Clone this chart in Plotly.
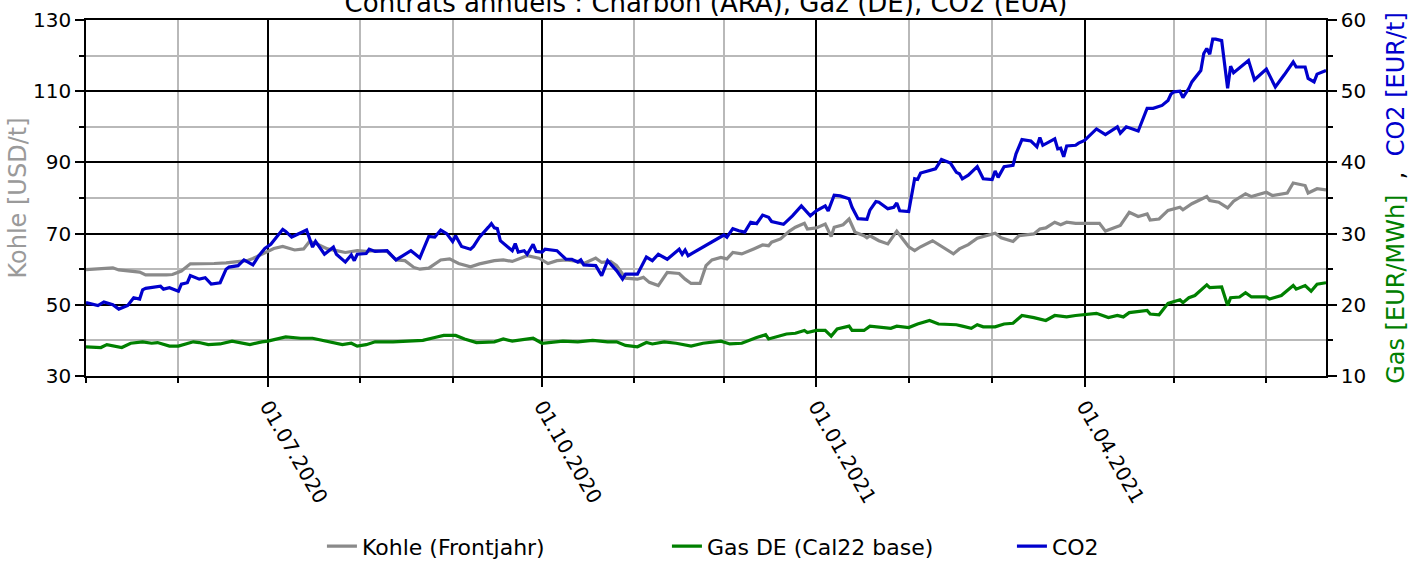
import plotly.graph_objects as go

# ---------------- data ----------------
kohle_dates = [
    "2020-05-01", "2020-05-05", "2020-05-10", "2020-05-12", "2020-05-16", "2020-05-19", "2020-05-21", "2020-05-25",
    "2020-05-28", "2020-05-30", "2020-06-02", "2020-06-05", "2020-06-08", "2020-06-13", "2020-06-17", "2020-06-21",
    "2020-06-24", "2020-06-26", "2020-06-29", "2020-07-01", "2020-07-03", "2020-07-06", "2020-07-10", "2020-07-13",
    "2020-07-15", "2020-07-17", "2020-07-21", "2020-07-24", "2020-07-27", "2020-07-31", "2020-08-03", "2020-08-06",
    "2020-08-10", "2020-08-13", "2020-08-16", "2020-08-19", "2020-08-21", "2020-08-24", "2020-08-28", "2020-08-31",
    "2020-09-03", "2020-09-07", "2020-09-10", "2020-09-15", "2020-09-18", "2020-09-21", "2020-09-24", "2020-09-26",
    "2020-09-30", "2020-10-03", "2020-10-06", "2020-10-09", "2020-10-13", "2020-10-15", "2020-10-19", "2020-10-21",
    "2020-10-24", "2020-10-26", "2020-10-29", "2020-11-02", "2020-11-04", "2020-11-06", "2020-11-09", "2020-11-12",
    "2020-11-16", "2020-11-18", "2020-11-20", "2020-11-23", "2020-11-25", "2020-11-27", "2020-11-30", "2020-12-02",
    "2020-12-04", "2020-12-07", "2020-12-11", "2020-12-14", "2020-12-16", "2020-12-17", "2020-12-20", "2020-12-23",
    "2020-12-25", "2020-12-28", "2020-12-29", "2021-01-01", "2021-01-04", "2021-01-06", "2021-01-07", "2021-01-10",
    "2021-01-12", "2021-01-14", "2021-01-17", "2021-01-18", "2021-01-19", "2021-01-22", "2021-01-25", "2021-01-28",
    "2021-01-30", "2021-02-01", "2021-02-03", "2021-02-05", "2021-02-09", "2021-02-11", "2021-02-14", "2021-02-16",
    "2021-02-18", "2021-02-21", "2021-02-24", "2021-02-27", "2021-03-02", "2021-03-04", "2021-03-08", "2021-03-10",
    "2021-03-15", "2021-03-17", "2021-03-19", "2021-03-22", "2021-03-24", "2021-03-26", "2021-03-29", "2021-04-04",
    "2021-04-06", "2021-04-08", "2021-04-13", "2021-04-16", "2021-04-19", "2021-04-22", "2021-04-23", "2021-04-26",
    "2021-04-29", "2021-05-03", "2021-05-04", "2021-05-07", "2021-05-12", "2021-05-13", "2021-05-16", "2021-05-19",
    "2021-05-21", "2021-05-25", "2021-05-27", "2021-06-01", "2021-06-03", "2021-06-08", "2021-06-10", "2021-06-14",
    "2021-06-15", "2021-06-18", "2021-06-21",
]
kohle_values = [
    59.9, 60.2, 60.4, 59.8, 59.4, 59.2, 58.4, 58.3,
    58.4, 58.5, 59.5, 61.5, 61.5, 61.6, 61.8, 62.2,
    62.4, 63.0, 64.2, 65.2, 65.8, 66.4, 65.4, 65.7,
    67.8, 67.3, 65.7, 65.2, 64.7, 65.2, 65.0, 65.2,
    65.0, 62.6, 62.4, 60.5, 60.0, 60.3, 62.6, 62.9,
    61.6, 60.7, 61.5, 62.4, 62.6, 62.2, 63.1, 63.8,
    63.1, 61.6, 62.4, 62.6, 62.2, 61.6, 63.1, 61.9,
    62.2, 61.0, 57.5, 57.2, 57.7, 56.3, 55.4, 59.1,
    58.8, 57.2, 56.0, 56.0, 61.0, 62.6, 63.3, 62.9,
    64.7, 64.3, 65.7, 66.8, 66.6, 67.6, 68.5, 70.7,
    71.8, 72.9, 71.3, 71.6, 72.7, 69.2, 71.8, 72.5,
    74.1, 70.4, 69.4, 68.8, 69.4, 68.0, 67.1, 70.7,
    68.5, 66.3, 65.2, 66.3, 68.0, 66.9, 65.2, 64.3,
    65.7, 66.9, 68.7, 69.4, 70.1, 68.8, 67.8, 69.4,
    69.9, 71.3, 71.6, 73.2, 72.5, 73.2, 72.9, 72.9,
    72.9, 70.7, 72.3, 76.0, 74.8, 75.5, 73.8, 74.1,
    76.5, 77.4, 76.7, 78.4, 80.4, 79.3, 78.8, 77.2,
    79.1, 81.2, 80.4, 81.6, 80.7, 81.4, 84.2, 83.5,
    81.4, 82.6, 82.3,
]

gas_dates = [
    "2020-05-01", "2020-05-06", "2020-05-08", "2020-05-11", "2020-05-13", "2020-05-16", "2020-05-20", "2020-05-23",
    "2020-05-25", "2020-05-29", "2020-06-01", "2020-06-06", "2020-06-08", "2020-06-11", "2020-06-15", "2020-06-19",
    "2020-06-22", "2020-06-25", "2020-06-29", "2020-07-01", "2020-07-07", "2020-07-12", "2020-07-16", "2020-07-21",
    "2020-07-26", "2020-07-29", "2020-07-31", "2020-08-03", "2020-08-06", "2020-08-12", "2020-08-19", "2020-08-22",
    "2020-08-26", "2020-08-29", "2020-09-02", "2020-09-05", "2020-09-09", "2020-09-15", "2020-09-18", "2020-09-21",
    "2020-09-28", "2020-10-01", "2020-10-08", "2020-10-13", "2020-10-18", "2020-10-23", "2020-10-26", "2020-10-29",
    "2020-11-02", "2020-11-05", "2020-11-07", "2020-11-11", "2020-11-15", "2020-11-20", "2020-11-24", "2020-11-30",
    "2020-12-03", "2020-12-07", "2020-12-12", "2020-12-15", "2020-12-16", "2020-12-22", "2020-12-25", "2020-12-28",
    "2020-12-29", "2021-01-01", "2021-01-04", "2021-01-06", "2021-01-08", "2021-01-12", "2021-01-13", "2021-01-17",
    "2021-01-19", "2021-01-22", "2021-01-26", "2021-01-28", "2021-02-01", "2021-02-04", "2021-02-08", "2021-02-11",
    "2021-02-17", "2021-02-19", "2021-02-22", "2021-02-24", "2021-02-26", "2021-03-02", "2021-03-05", "2021-03-08",
    "2021-03-11", "2021-03-15", "2021-03-17", "2021-03-19", "2021-03-22", "2021-03-26", "2021-03-29", "2021-04-05",
    "2021-04-09", "2021-04-12", "2021-04-14", "2021-04-16", "2021-04-22", "2021-04-23", "2021-04-26", "2021-04-29",
    "2021-05-03", "2021-05-04", "2021-05-06", "2021-05-08", "2021-05-12", "2021-05-13", "2021-05-17", "2021-05-18",
    "2021-05-19", "2021-05-20", "2021-05-23", "2021-05-25", "2021-05-27", "2021-06-01", "2021-06-02", "2021-06-06",
    "2021-06-10", "2021-06-11", "2021-06-14", "2021-06-16", "2021-06-18", "2021-06-21",
]
gas_values = [
    14.1, 14.0, 14.4, 14.2, 14.0, 14.6, 14.8, 14.6,
    14.7, 14.2, 14.2, 14.8, 14.7, 14.4, 14.5, 14.9,
    14.7, 14.4, 14.8, 14.9, 15.5, 15.3, 15.3, 14.8,
    14.4, 14.6, 14.2, 14.4, 14.8, 14.8, 14.9, 15.0,
    15.4, 15.7, 15.7, 15.2, 14.7, 14.8, 15.2, 14.9,
    15.3, 14.6, 14.9, 14.8, 15.0, 14.8, 14.8, 14.3,
    14.1, 14.7, 14.5, 14.8, 14.6, 14.2, 14.6, 14.9,
    14.5, 14.6, 15.4, 15.8, 15.2, 15.9, 16.0, 16.4,
    16.1, 16.4, 16.4, 15.6, 16.6, 17.0, 16.4, 16.4,
    17.0, 16.9, 16.7, 17.0, 16.8, 17.3, 17.8, 17.3,
    17.2, 17.0, 16.7, 17.2, 16.9, 16.9, 17.3, 17.4,
    18.5, 18.2, 18.0, 17.8, 18.5, 18.3, 18.5, 18.8,
    18.2, 18.5, 18.3, 18.9, 19.2, 18.7, 18.6, 20.2,
    20.7, 20.3, 21.0, 21.3, 22.8, 22.4, 22.5, 21.0,
    19.9, 21.0, 21.1, 21.7, 21.1, 21.1, 20.8, 21.3,
    22.7, 22.2, 22.7, 21.9, 22.9, 23.1,
]

co2_dates = [
    "2020-05-01", "2020-05-05", "2020-05-07", "2020-05-10", "2020-05-12", "2020-05-15", "2020-05-17", "2020-05-19",
    "2020-05-20", "2020-05-21", "2020-05-26", "2020-05-27", "2020-05-29", "2020-06-01", "2020-06-02", "2020-06-04",
    "2020-06-05", "2020-06-08", "2020-06-10", "2020-06-12", "2020-06-15", "2020-06-17", "2020-06-18", "2020-06-21",
    "2020-06-23", "2020-06-24", "2020-06-26", "2020-06-28", "2020-06-30", "2020-07-02", "2020-07-04", "2020-07-06",
    "2020-07-07", "2020-07-09", "2020-07-11", "2020-07-14", "2020-07-16", "2020-07-17", "2020-07-20", "2020-07-23",
    "2020-07-24", "2020-07-27", "2020-07-29", "2020-07-30", "2020-07-31", "2020-08-03", "2020-08-04", "2020-08-06",
    "2020-08-10", "2020-08-13", "2020-08-18", "2020-08-21", "2020-08-24", "2020-08-26", "2020-08-28", "2020-08-30",
    "2020-09-01", "2020-09-02", "2020-09-04", "2020-09-07", "2020-09-08", "2020-09-10", "2020-09-13", "2020-09-14",
    "2020-09-15", "2020-09-16", "2020-09-17", "2020-09-21", "2020-09-22", "2020-09-23", "2020-09-25", "2020-09-26",
    "2020-09-28", "2020-09-29", "2020-10-01", "2020-10-02", "2020-10-06", "2020-10-09", "2020-10-11", "2020-10-13",
    "2020-10-14", "2020-10-15", "2020-10-19", "2020-10-21", "2020-10-23", "2020-10-25", "2020-10-26", "2020-10-28",
    "2020-10-29", "2020-11-02", "2020-11-05", "2020-11-07", "2020-11-09", "2020-11-12", "2020-11-16", "2020-11-17",
    "2020-11-18", "2020-11-19", "2020-11-24", "2020-11-25", "2020-11-27", "2020-11-30", "2020-12-01", "2020-12-02",
    "2020-12-04", "2020-12-06", "2020-12-08", "2020-12-10", "2020-12-12", "2020-12-14", "2020-12-16", "2020-12-17",
    "2020-12-21", "2020-12-24", "2020-12-27", "2020-12-30", "2021-01-01", "2021-01-04", "2021-01-05", "2021-01-07",
    "2021-01-09", "2021-01-12", "2021-01-13", "2021-01-15", "2021-01-18", "2021-01-19", "2021-01-21", "2021-01-22",
    "2021-01-25", "2021-01-27", "2021-01-28", "2021-01-29", "2021-02-01", "2021-02-03", "2021-02-04", "2021-02-05",
    "2021-02-09", "2021-02-10", "2021-02-12", "2021-02-15", "2021-02-17", "2021-02-18", "2021-02-19", "2021-02-21",
    "2021-02-24", "2021-02-26", "2021-03-01", "2021-03-02", "2021-03-03", "2021-03-05", "2021-03-08", "2021-03-09",
    "2021-03-11", "2021-03-14", "2021-03-15", "2021-03-16", "2021-03-17", "2021-03-18", "2021-03-22", "2021-03-23",
    "2021-03-24", "2021-03-25", "2021-03-26", "2021-03-29", "2021-03-30", "2021-04-01", "2021-04-05", "2021-04-08",
    "2021-04-12", "2021-04-13", "2021-04-15", "2021-04-19", "2021-04-22", "2021-04-24", "2021-04-27", "2021-04-29",
    "2021-04-30", "2021-05-01", "2021-05-03", "2021-05-04", "2021-05-06", "2021-05-07", "2021-05-10", "2021-05-11",
    "2021-05-12", "2021-05-13", "2021-05-14", "2021-05-15", "2021-05-17", "2021-05-19", "2021-05-20", "2021-05-21",
    "2021-05-26", "2021-05-28", "2021-06-01", "2021-06-04", "2021-06-07", "2021-06-10", "2021-06-11", "2021-06-14",
    "2021-06-15", "2021-06-17", "2021-06-18", "2021-06-21",
]
co2_values = [
    20.3, 19.9, 20.4, 20.0, 19.4, 19.9, 21.0, 20.8,
    22.1, 22.3, 22.6, 22.2, 22.4, 21.9, 22.9, 23.1,
    24.1, 23.6, 23.8, 22.9, 23.1, 25.0, 25.3, 25.5,
    26.3, 26.1, 25.6, 26.9, 27.9, 28.5, 29.5, 30.6,
    30.3, 29.5, 29.9, 30.5, 28.1, 28.9, 27.1, 28.1,
    27.1, 26.0, 27.0, 26.2, 27.1, 27.2, 27.8, 27.5,
    27.6, 26.3, 27.6, 26.6, 29.6, 29.5, 30.5, 30.0,
    28.9, 29.7, 28.2, 27.8, 28.2, 29.5, 30.9, 31.4,
    30.8, 30.7, 29.0, 27.6, 28.6, 27.4, 27.6, 27.1,
    28.5, 27.5, 27.4, 27.8, 27.6, 26.4, 26.4, 26.0,
    26.3, 25.6, 25.5, 24.1, 26.2, 25.3, 24.8, 23.6,
    24.3, 24.3, 26.7, 26.2, 27.1, 26.4, 27.8, 27.1,
    27.7, 26.9, 28.1, 28.3, 28.9, 29.5, 29.8, 29.5,
    30.7, 30.4, 30.2, 31.6, 31.4, 32.6, 32.3, 31.7,
    31.3, 32.5, 33.9, 32.5, 33.2, 33.9, 33.2, 35.4,
    35.3, 34.9, 33.7, 32.1, 32.0, 33.3, 34.5, 34.4,
    33.5, 33.7, 34.3, 33.2, 33.1, 37.7, 37.6, 38.5,
    38.9, 39.1, 40.4, 39.9, 38.6, 38.4, 37.7, 38.2,
    39.4, 37.7, 37.6, 38.8, 37.9, 39.4, 39.6, 41.2,
    43.2, 43.0, 42.6, 42.2, 43.5, 42.4, 43.3, 41.9,
    42.0, 40.8, 42.3, 42.4, 42.7, 43.1, 44.7, 43.9,
    45.0, 44.1, 45.0, 44.4, 47.6, 47.6, 48.0, 48.7,
    49.6, 49.9, 50.0, 49.1, 50.4, 51.3, 52.9, 55.3,
    56.0, 55.2, 57.3, 57.3, 57.1, 50.4, 53.5, 52.6,
    54.3, 51.6, 53.1, 50.6, 52.3, 54.1, 53.4, 53.4,
    51.8, 51.3, 52.4, 52.9,
]

series_names = ["Kohle (Frontjahr)", "Gas DE (Cal22 base)", "CO2"]
x_range = ["2020-05-01", "2021-06-21"]
title_text = "Contrats annuels : Charbon (ARA), Gaz (DE), CO2 (EUA)"

# ---------------- styling ----------------
FONT = "DejaVu Sans"
C_KOHLE = "#8a8a8a"
C_GAS = "#008000"
C_CO2 = "#0000cd"
MINOR_GRID = "#b9b9b9"

fig = go.Figure()
fig.add_trace(go.Scatter(x=kohle_dates, y=kohle_values, name=series_names[0], mode="lines",
                         line=dict(color=C_KOHLE, width=3.2), yaxis="y"))
fig.add_trace(go.Scatter(x=gas_dates, y=gas_values, name=series_names[1], mode="lines",
                         line=dict(color=C_GAS, width=3.2), yaxis="y2"))
fig.add_trace(go.Scatter(x=co2_dates, y=co2_values, name=series_names[2], mode="lines",
                         line=dict(color=C_CO2, width=3.2), yaxis="y2"))

right_title = ("<span style='color:" + C_GAS + "'>Gas [EUR/MWh]</span>"
               "\u00a0\u00a0,\u00a0\u00a0"
               "<span style='color:" + C_CO2 + "'>CO2 [EUR/t]</span>")

fig.update_layout(
    width=1412, height=562,
    margin=dict(l=86, r=86, t=20, b=186),
    paper_bgcolor="white", plot_bgcolor="white",
    font=dict(family=FONT, size=20, color="black"),
    title=dict(text=title_text, x=0.5, xanchor="center", xref="container",
               y=0.994, yanchor="middle", yref="container",
               font=dict(family=FONT, size=26, color="black")),
    showlegend=True,
    legend=dict(orientation="h", xref="container", x=0.228, xanchor="left",
                yref="container", y=0.028, yanchor="middle",
                entrywidth=300, entrywidthmode="pixels",
                font=dict(family=FONT, size=22, color="black"),
                bgcolor="rgba(0,0,0,0)"),
    xaxis=dict(
        type="date", range=x_range, dtick="M3", tick0="2020-07-01",
        tickformat="%d.%m.%Y", tickangle=60,
        ticks="outside", ticklen=9, tickwidth=1.5, tickcolor="black",
        showgrid=True, gridcolor="black", gridwidth=1.5,
        showline=True, linecolor="black", linewidth=1.5, mirror=True,
        zeroline=False, automargin=False,
        tickfont=dict(family=FONT, size=20, color="black"),
        minor=dict(dtick="M1", tick0="2020-05-01", ticks="outside", ticklen=5,
                   tickwidth=1.5, tickcolor="black",
                   showgrid=True, gridcolor=MINOR_GRID, gridwidth=1.5),
    ),
    yaxis=dict(
        range=[30, 130], dtick=20, tick0=30,
        ticks="outside", ticklen=9, tickwidth=1.5, tickcolor="black",
        showgrid=True, gridcolor="black", gridwidth=1.5,
        showline=True, linecolor="black", linewidth=1.5, mirror=True,
        zeroline=False, automargin=False,
        tickfont=dict(family=FONT, size=20, color="black"),
        title=dict(text="Kohle [USD/t]", standoff=0,
                   font=dict(family=FONT, size=24, color="#9a9a9a")),
        minor=dict(dtick=10, tick0=30, ticks="outside", ticklen=5,
                   tickwidth=1.5, tickcolor="black",
                   showgrid=True, gridcolor=MINOR_GRID, gridwidth=1.5),
    ),
    yaxis2=dict(
        overlaying="y", side="right", range=[10, 60], dtick=10, tick0=10,
        ticks="outside", ticklen=9, tickwidth=1.5, tickcolor="black",
        showgrid=False, showline=True, linecolor="black", linewidth=1.5,
        zeroline=False, automargin=False,
        tickfont=dict(family=FONT, size=20, color="black"),
        title=dict(text=right_title, standoff=22,
                   font=dict(family=FONT, size=24, color="black")),
        minor=dict(dtick=5, tick0=10, ticks="outside", ticklen=5,
                   tickwidth=1.5, tickcolor="black", showgrid=False),
    ),
)

fig.write_html("out.html", config={"displayModeBar": False},
               post_script="document.body.style.margin='0';")
